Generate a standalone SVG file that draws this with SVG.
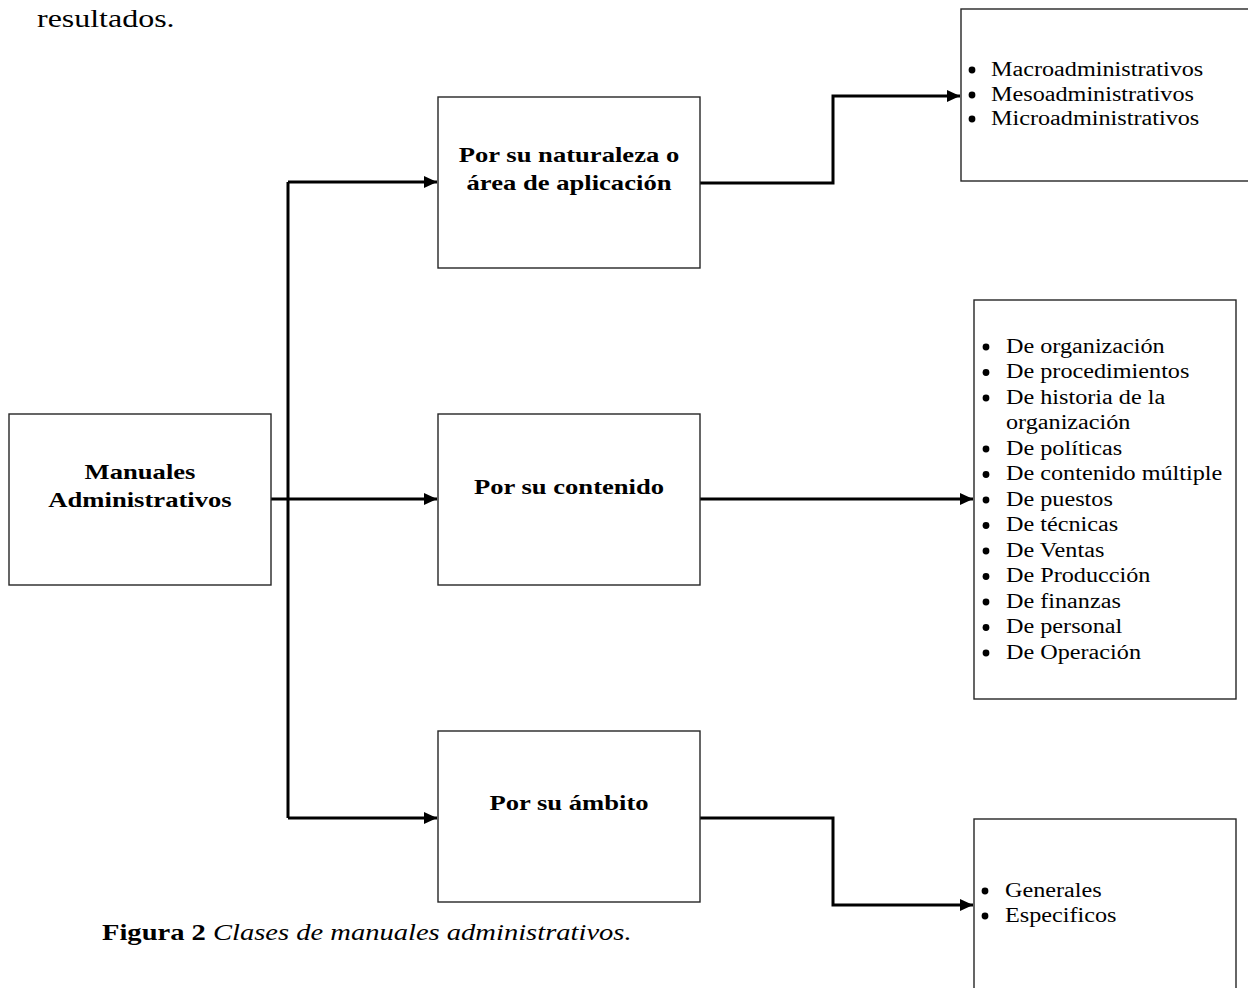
<svg xmlns="http://www.w3.org/2000/svg" width="1248" height="988" viewBox="0 0 1248 988">
  <style>
    .box { fill: #ffffff; stroke: #262626; stroke-width: 1.4; }
    .conn { fill: none; stroke: #000000; stroke-width: 3; stroke-linejoin: miter; }
    .lbl { font-family: "Liberation Serif", "Times New Roman", serif; font-weight: bold; font-size: 22px; fill: #000; }
    .item { font-family: "Liberation Serif", "Times New Roman", serif; font-size: 20px; fill: #000; }
    .doc { font-family: "Liberation Serif", "Times New Roman", serif; fill: #000; }
    .dot { fill: #000; }
  </style>
  <defs>
    <marker id="arrow" markerUnits="userSpaceOnUse" markerWidth="14" markerHeight="12" refX="13" refY="6" orient="auto">
      <path d="M0,0 L13,6 L0,12 z" fill="#000"/>
    </marker>
  </defs>

  <rect width="1248" height="988" fill="#ffffff"/>

  <!-- running text above the figure -->
  <text class="doc" font-size="26" transform="translate(37,27) scale(1.23,1)">resultados.</text>

  <!-- connectors -->
  <g id="connectors">
    <polyline class="conn" points="271,499 437,499" marker-end="url(#arrow)"/>
    <polyline class="conn" points="288,182 288,818"/>
    <polyline class="conn" points="288,182 437,182" marker-end="url(#arrow)"/>
    <polyline class="conn" points="288,818 437,818" marker-end="url(#arrow)"/>
    <polyline class="conn" points="700,183 833,183 833,96 960,96" marker-end="url(#arrow)"/>
    <polyline class="conn" points="700,499 973,499" marker-end="url(#arrow)"/>
    <polyline class="conn" points="700,818 833,818 833,905 973,905" marker-end="url(#arrow)"/>
  </g>

  <!-- root node -->
  <g id="node-manuales">
    <rect class="box" x="9" y="414" width="262" height="171"/>
    <text class="lbl" text-anchor="middle" transform="translate(140,479) scale(1.21,1)">Manuales</text>
    <text class="lbl" text-anchor="middle" transform="translate(140,507) scale(1.21,1)">Administrativos</text>
  </g>

  <!-- classification nodes -->
  <g id="node-naturaleza">
    <rect class="box" x="438" y="97" width="262" height="171"/>
    <text class="lbl" text-anchor="middle" transform="translate(569,162) scale(1.21,1)">Por su naturaleza o</text>
    <text class="lbl" text-anchor="middle" transform="translate(569,190) scale(1.21,1)">área de aplicación</text>
  </g>

  <g id="node-contenido">
    <rect class="box" x="438" y="414" width="262" height="171"/>
    <text class="lbl" text-anchor="middle" transform="translate(569,494) scale(1.21,1)">Por su contenido</text>
  </g>

  <g id="node-ambito">
    <rect class="box" x="438" y="731" width="262" height="171"/>
    <text class="lbl" text-anchor="middle" transform="translate(569,810) scale(1.21,1)">Por su ámbito</text>
  </g>

  <!-- list nodes -->
  <g id="list-naturaleza">
    <rect class="box" x="961" y="9" width="300" height="172"/>
    <g class="dot">
      <circle cx="972" cy="70" r="3.4"/>
      <circle cx="972" cy="95" r="3.4"/>
      <circle cx="972" cy="119" r="3.4"/>
    </g>
    <g class="item" transform="translate(991,0) scale(1.21,1)">
      <text x="0" y="76">Macroadministrativos</text>
      <text x="0" y="101">Mesoadministrativos</text>
      <text x="0" y="125">Microadministrativos</text>
    </g>
  </g>

  <g id="list-contenido">
    <rect class="box" x="974" y="300" width="262" height="399"/>
    <g class="dot">
      <circle cx="986" cy="347" r="3.4"/>
      <circle cx="986" cy="372.5" r="3.4"/>
      <circle cx="986" cy="398" r="3.4"/>
      <circle cx="986" cy="449" r="3.4"/>
      <circle cx="986" cy="474.5" r="3.4"/>
      <circle cx="986" cy="500" r="3.4"/>
      <circle cx="986" cy="525.5" r="3.4"/>
      <circle cx="986" cy="551" r="3.4"/>
      <circle cx="986" cy="576.5" r="3.4"/>
      <circle cx="986" cy="602" r="3.4"/>
      <circle cx="986" cy="627.5" r="3.4"/>
      <circle cx="986" cy="653" r="3.4"/>
    </g>
    <g class="item" transform="translate(1006,0) scale(1.21,1)">
      <text x="0" y="353">De organización</text>
      <text x="0" y="378.5">De procedimientos</text>
      <text x="0" y="404">De historia de la</text>
      <text x="0" y="429.5">organización</text>
      <text x="0" y="455">De políticas</text>
      <text x="0" y="480.5">De contenido múltiple</text>
      <text x="0" y="506">De puestos</text>
      <text x="0" y="531.5">De técnicas</text>
      <text x="0" y="557">De Ventas</text>
      <text x="0" y="582.5">De Producción</text>
      <text x="0" y="608">De finanzas</text>
      <text x="0" y="633.5">De personal</text>
      <text x="0" y="659">De Operación</text>
    </g>
  </g>

  <g id="list-ambito">
    <rect class="box" x="974" y="819" width="262" height="200"/>
    <g class="dot">
      <circle cx="985" cy="891" r="3.4"/>
      <circle cx="985" cy="916" r="3.4"/>
    </g>
    <g class="item" transform="translate(1005,0) scale(1.21,1)">
      <text x="0" y="897">Generales</text>
      <text x="0" y="922">Especificos</text>
    </g>
  </g>

  <!-- figure caption -->
  <text class="doc" font-size="24" transform="translate(102,940) scale(1.19,1)"><tspan font-weight="bold">Figura 2</tspan><tspan font-style="italic"> Clases de manuales administrativos.</tspan></text>
</svg>
